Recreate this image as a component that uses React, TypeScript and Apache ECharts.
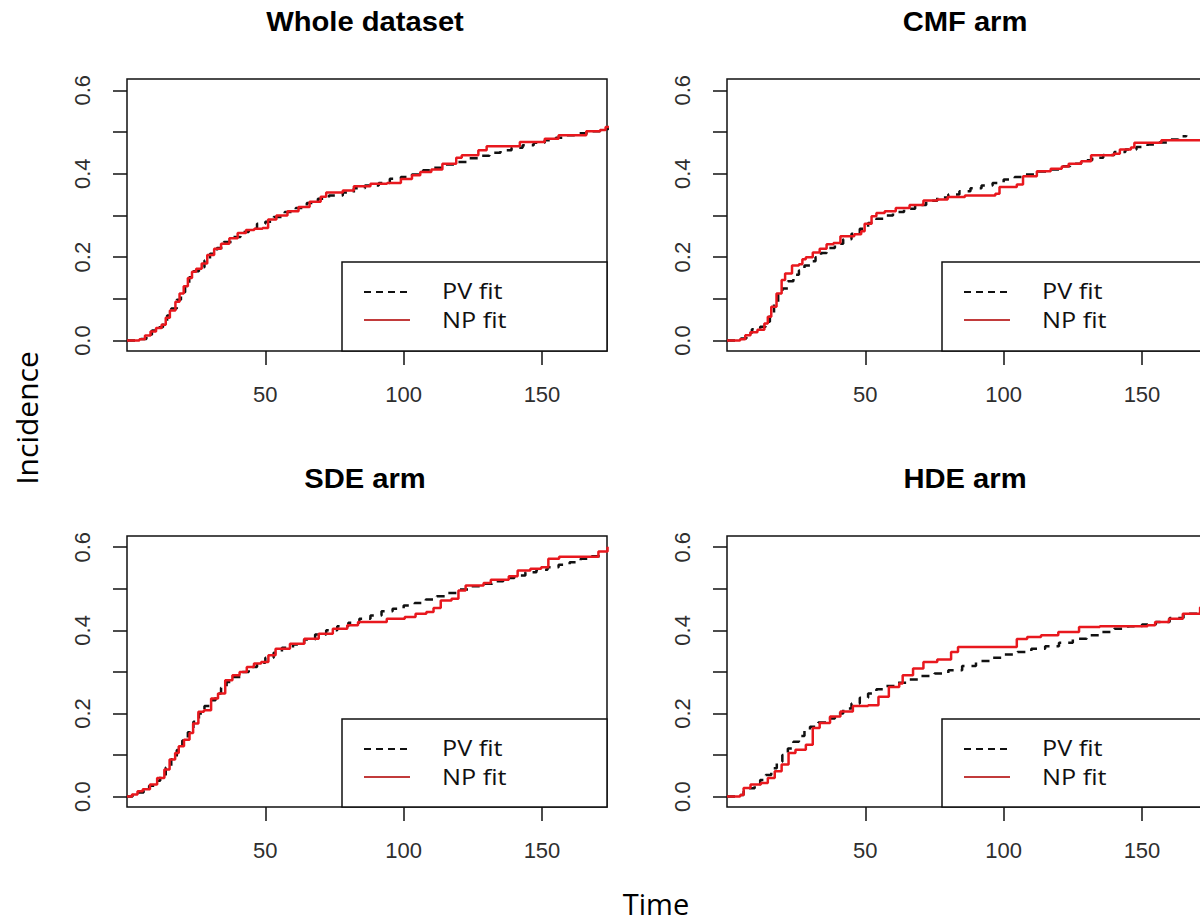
import React, { useEffect, useRef } from "react";
import * as echarts from "echarts";

const panelTitles = ["Whole dataset", "CMF arm", "SDE arm", "HDE arm"];
const legendLabels = ["PV fit", "NP fit"];
const yTickValues = [0, 0.1, 0.2, 0.3, 0.4, 0.5, 0.6];
const yLabelValues = [0, 0.2, 0.4, 0.6];
const xTickValues = [50, 100, 150];
const xAxisTitle = "Time";
const yAxisTitle = "Incidence";

// [time, incidence]
const wholeNP = [
  [0, 0], [4.5, 0.003], [6.5, 0.012], [8.5, 0.022], [10.5, 0.03], [12.5, 0.038], [14, 0.055], [15.5, 0.072],
  [17.5, 0.093], [19, 0.113], [20.5, 0.13], [22, 0.15], [23.5, 0.165], [25, 0.172], [27, 0.185], [29, 0.205],
  [31.5, 0.22], [34, 0.232], [37, 0.245], [40, 0.258], [43, 0.265], [46, 0.268], [49, 0.27], [51, 0.29],
  [54, 0.3], [58, 0.31], [62, 0.32], [66, 0.333], [70, 0.345], [72, 0.355], [78, 0.36], [82, 0.37],
  [88, 0.376], [94, 0.378], [99, 0.387], [103, 0.396], [106, 0.404], [110, 0.41], [114, 0.424], [119, 0.438],
  [121, 0.444], [127, 0.456], [130, 0.466], [142, 0.476], [151, 0.484], [156, 0.492], [166, 0.502],
  [171, 0.505], [173, 0.512], [174, 0.515],
];
const wholePV = [
  [0, 0], [5, 0.004], [7, 0.014], [9, 0.024], [11, 0.032], [13, 0.045], [14.5, 0.06], [16, 0.077],
  [18, 0.098], [19.5, 0.116], [21, 0.134], [22.5, 0.152], [24, 0.166], [26, 0.176], [28, 0.192], [30, 0.208],
  [32.5, 0.222], [35, 0.236], [38, 0.248], [41, 0.26], [44, 0.268], [47, 0.28], [50, 0.285], [53, 0.296],
  [57, 0.308], [61, 0.318], [65, 0.33], [69, 0.34], [73, 0.348], [78, 0.355], [82, 0.365], [86, 0.372],
  [91, 0.378], [95, 0.388], [99, 0.392], [103, 0.398], [107, 0.408], [111, 0.414], [115, 0.422], [119, 0.428],
  [123, 0.437], [127, 0.443], [131, 0.45], [135, 0.456], [139, 0.462], [143, 0.468], [147, 0.474], [151, 0.48],
  [155, 0.486], [159, 0.492], [163, 0.497], [167, 0.502], [171, 0.507], [174, 0.512],
];
const cmfNP = [
  [0, 0], [4.75, 0.003], [6.6, 0.013], [8.5, 0.02], [11, 0.026], [13.5, 0.041], [14.75, 0.057], [16, 0.081],
  [17.9, 0.113], [19.75, 0.145], [21, 0.161], [23.5, 0.18], [26, 0.183], [27.25, 0.195], [28.5, 0.2], [31, 0.211],
  [33.5, 0.22], [36, 0.231], [38.5, 0.234], [41, 0.25], [46, 0.255], [48.5, 0.262], [49.75, 0.28], [52.25, 0.298],
  [54, 0.306], [57, 0.31], [61, 0.318], [66, 0.325], [71, 0.336], [76, 0.338], [79.75, 0.344], [86, 0.348],
  [97, 0.352], [98.5, 0.368], [104.75, 0.374], [107, 0.394], [112, 0.406], [117, 0.412], [121, 0.417],
  [123.5, 0.424], [128, 0.43], [131.6, 0.444], [139.75, 0.448], [142, 0.458], [146, 0.463], [147.25, 0.474],
  [156, 0.474], [157, 0.48], [174, 0.48],
];
const cmfPV = [
  [0, 0], [5, 0.005], [7, 0.018], [9, 0.027], [12, 0.033], [14, 0.045], [15.5, 0.066], [17, 0.09],
  [18.5, 0.11], [20, 0.125], [22, 0.142], [24, 0.158], [26, 0.168], [28, 0.18], [30, 0.19], [32, 0.2],
  [34, 0.21], [36, 0.222], [39, 0.232], [42, 0.243], [45, 0.256], [48, 0.268], [51, 0.282], [54, 0.292],
  [57, 0.3], [60, 0.308], [64, 0.316], [68, 0.325], [72, 0.335], [76, 0.343], [80, 0.35], [84, 0.358],
  [88, 0.365], [92, 0.372], [96, 0.378], [100, 0.386], [104, 0.392], [108, 0.398], [112, 0.405], [116, 0.41],
  [120, 0.418], [124, 0.424], [128, 0.432], [132, 0.438], [136, 0.445], [140, 0.452], [144, 0.458],
  [148, 0.464], [152, 0.47], [156, 0.475], [160, 0.482], [163, 0.49], [166, 0.492],
];
const sdeNP = [
  [0, 0], [1.8, 0.005], [3.8, 0.013], [5.7, 0.018], [8.3, 0.029], [10.9, 0.045], [13.5, 0.065], [15.4, 0.089],
  [17.4, 0.105], [18.7, 0.121], [20.6, 0.137], [22.6, 0.153], [23.9, 0.176], [25.8, 0.204], [27.8, 0.208],
  [30.4, 0.236], [32.9, 0.248], [35.5, 0.28], [38.1, 0.292], [40.7, 0.3], [43.3, 0.312], [45.9, 0.32],
  [48.5, 0.324], [51.1, 0.34], [53.7, 0.356], [58.9, 0.368], [64.1, 0.38], [69.3, 0.392], [74.4, 0.404],
  [79.6, 0.412], [83.5, 0.42], [92.6, 0.42], [93.9, 0.428], [100.4, 0.432], [104.3, 0.44], [108.2, 0.444],
  [110.8, 0.454], [113.4, 0.472], [117.3, 0.476], [119.8, 0.496], [122.4, 0.508], [128.9, 0.514],
  [131.5, 0.522], [138, 0.53], [141.2, 0.544], [145.8, 0.548], [149.7, 0.552], [152.3, 0.572],
  [156.2, 0.577], [167.8, 0.577], [170.4, 0.59], [173.7, 0.601],
];
const sdePV = [
  [0, 0], [2, 0.004], [4, 0.01], [6, 0.018], [8, 0.026], [10, 0.038], [12, 0.052], [14, 0.07],
  [16, 0.09], [18, 0.112], [20, 0.135], [22, 0.155], [24, 0.18], [26, 0.2], [28, 0.218], [30, 0.232],
  [32, 0.248], [34, 0.262], [36, 0.276], [38, 0.288], [41, 0.3], [44, 0.312], [47, 0.322], [50, 0.334],
  [53, 0.346], [56, 0.358], [60, 0.366], [64, 0.378], [68, 0.39], [72, 0.4], [76, 0.41], [80, 0.418],
  [84, 0.428], [88, 0.436], [92, 0.446], [96, 0.452], [100, 0.46], [104, 0.466], [108, 0.474], [112, 0.482],
  [116, 0.49], [120, 0.498], [124, 0.506], [128, 0.512], [132, 0.518], [136, 0.526], [140, 0.532],
  [144, 0.54], [148, 0.546], [152, 0.552], [156, 0.558], [160, 0.564], [164, 0.572], [168, 0.578], [172, 0.585],
];
const hdeNP = [
  [0, 0], [4.75, 0.004], [6, 0.021], [8.5, 0.029], [12.25, 0.033], [14.75, 0.045], [17.25, 0.061],
  [19.75, 0.077], [22.25, 0.105], [24.75, 0.113], [28.5, 0.125], [31, 0.165], [33.5, 0.177], [37.25, 0.193],
  [41, 0.205], [45.5, 0.218], [51, 0.22], [54.75, 0.24], [58.5, 0.264], [62.25, 0.272], [63.5, 0.292],
  [67.25, 0.308], [71, 0.324], [76, 0.33], [81, 0.348], [83.5, 0.36], [102, 0.36], [104.75, 0.379],
  [108.5, 0.384], [113.5, 0.388], [119.75, 0.396], [127.25, 0.408], [134.75, 0.41], [152, 0.412],
  [154.75, 0.42], [159.75, 0.428], [164.75, 0.44], [171, 0.455], [174, 0.458],
];
const hdePV = [
  [0, 0], [4, 0.004], [6, 0.012], [8, 0.02], [10, 0.03], [12, 0.04], [14, 0.052], [16, 0.068],
  [18, 0.084], [20, 0.1], [22, 0.116], [24, 0.132], [26, 0.146], [28, 0.158], [30, 0.168], [33, 0.178],
  [36, 0.188], [39, 0.2], [42, 0.212], [45, 0.224], [48, 0.238], [51, 0.248], [54, 0.258], [57, 0.266],
  [61, 0.274], [65, 0.282], [70, 0.29], [75, 0.296], [80, 0.304], [85, 0.314], [90, 0.326], [95, 0.334],
  [100, 0.342], [105, 0.348], [110, 0.356], [115, 0.362], [120, 0.37], [125, 0.38], [130, 0.388],
  [135, 0.396], [140, 0.404], [145, 0.41], [150, 0.414], [155, 0.42], [160, 0.43], [165, 0.44], [170, 0.448],
];

const panelPV = [wholePV, cmfPV, sdePV, hdePV];
const panelNP = [wholeNP, cmfNP, sdeNP, hdeNP];

const layout = [
  { left: 127, top: 79, h: 272 },
  { left: 727, top: 79, h: 272 },
  { left: 127, top: 536, h: 271 },
  { left: 727, top: 536, h: 271 },
];
const PW = 480;
const AXIS_FONT = "'Liberation Sans', Arial, sans-serif";
const WORD_FONT = "'Open Sans', 'Noto Sans', sans-serif";

export default function App() {
  const ref = useRef<HTMLDivElement>(null);
  useEffect(() => {
    if (!ref.current) return;
    const chart = echarts.init(ref.current, null, { renderer: "svg" });
    const graphic: any[] = [];
    layout.forEach((l, i) => {
      graphic.push({
        type: "text",
        x: l.left + 238,
        y: l.top - 57,
        scaleX: 1.08,
        z: 10,
        style: {
          text: panelTitles[i],
          fontSize: 27,
          fontWeight: "bold",
          fontFamily: AXIS_FONT,
          fill: "#000",
          align: "center",
          verticalAlign: "middle",
          textAlign: "center",
          textVerticalAlign: "middle",
        },
      });
      graphic.push({
        type: "rect",
        z: 10,
        shape: { x: l.left + 215, y: l.top + 183, width: PW - 215, height: l.h - 183 },
        style: { fill: "#fff", stroke: "#111", lineWidth: 1.5 },
      });
      graphic.push({
        type: "line",
        z: 11,
        shape: { x1: l.left + 237, y1: l.top + 213, x2: l.left + 283, y2: l.top + 213 },
        style: { stroke: "#111", lineWidth: 2, lineDash: [7, 5] },
      });
      graphic.push({
        type: "line",
        z: 11,
        shape: { x1: l.left + 237, y1: l.top + 241, x2: l.left + 283, y2: l.top + 241 },
        style: { stroke: "#c23b3b", lineWidth: 2 },
      });
      legendLabels.forEach((lab, k) => {
        graphic.push({
          type: "text",
          x: l.left + 315,
          y: l.top + 212 + k * 29,
          scaleX: 1.2,
          z: 11,
          style: {
            text: lab,
            fontSize: 21,
            fontFamily: WORD_FONT,
            fill: "#111",
            align: "left",
            verticalAlign: "middle",
            textAlign: "left",
            textVerticalAlign: "middle",
          },
        });
      });
    });
    graphic.push({
      type: "text",
      x: 26,
      y: 418,
      rotation: Math.PI / 2,
      z: 10,
      style: {
        text: yAxisTitle,
        fontSize: 30,
        fontFamily: WORD_FONT,
        fill: "#000",
        align: "center",
        verticalAlign: "middle",
        textAlign: "center",
        textVerticalAlign: "middle",
      },
    });
    graphic.push({
      type: "text",
      x: 656,
      y: 903,
      z: 10,
      style: {
        text: xAxisTitle,
        fontSize: 29,
        lineHeight: 30,
        fontFamily: WORD_FONT,
        fill: "#000",
        align: "center",
        verticalAlign: "middle",
        textAlign: "center",
        textVerticalAlign: "middle",
      },
    });

    const series: any[] = [];
    layout.forEach((_, i) => {
      series.push({
        type: "line",
        name: legendLabels[0],
        xAxisIndex: i,
        yAxisIndex: i,
        data: panelPV[i],
        step: "end",
        showSymbol: false,
        symbol: "none",
        lineStyle: { color: "#111", width: 2.5, type: [8, 7] },
        z: 2,
      });
      series.push({
        type: "line",
        name: legendLabels[1],
        xAxisIndex: i,
        yAxisIndex: i,
        data: panelNP[i],
        step: "end",
        showSymbol: false,
        symbol: "none",
        lineStyle: { color: "#e8181e", width: 2.5 },
        z: 3,
      });
    });

    chart.setOption({
      animation: false,
      backgroundColor: "#fff",
      grid: layout.map((l) => ({
        left: l.left,
        top: l.top,
        width: PW,
        height: l.h,
        show: true,
        borderColor: "#111",
        borderWidth: 1.5,
        backgroundColor: "transparent",
        containLabel: false,
        outerBoundsMode: "none",
      })),
      xAxis: layout.map((_, i) => ({
        type: "value",
        gridIndex: i,
        min: 0,
        max: 173.5,
        axisLine: { show: false, onZero: false },
        splitLine: { show: false },
        axisTick: { show: true, customValues: xTickValues, length: 14, lineStyle: { color: "#111", width: 1.5 } },
        axisLabel: {
          customValues: xTickValues,
          fontSize: 22,
          color: "#2e2e2e",
          fontFamily: AXIS_FONT,
          margin: 32,
        },
      })),
      yAxis: layout.map((_, i) => ({
        type: "value",
        gridIndex: i,
        min: -0.025,
        max: 0.627,
        axisLine: { show: false, onZero: false },
        splitLine: { show: false },
        axisTick: { show: true, customValues: yTickValues, length: 14, lineStyle: { color: "#111", width: 1.5 } },
        axisLabel: {
          customValues: yLabelValues,
          rotate: 90,
          fontSize: 22,
          color: "#2e2e2e",
          fontFamily: AXIS_FONT,
          margin: 34,
          formatter: (v: number) => v.toFixed(1),
        },
      })),
      series,
      graphic,
    });
    return () => chart.dispose();
  }, []);
  return (
    <div
      ref={ref}
      style={{ position: "absolute", left: 0, top: 0, width: 1200, height: 922, background: "#fff" }}
    />
  );
}
